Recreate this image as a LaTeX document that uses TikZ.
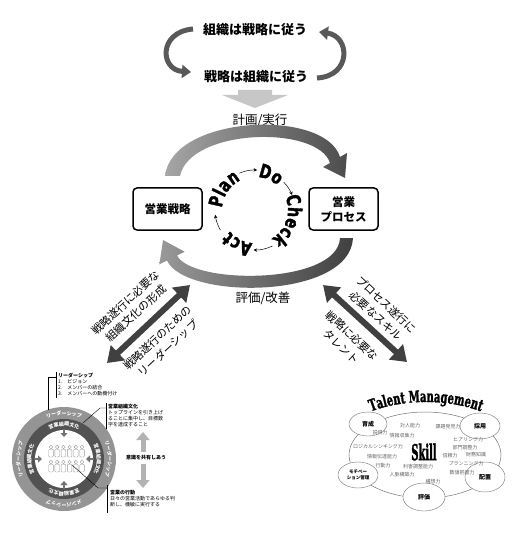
\documentclass[tikz,border=0pt]{standalone}
\usepackage{fontspec}
\setmainfont{Noto Sans CJK JP}
\newfontfamily\pdcafont{DejaVu Sans}[FakeStretch=0.75,BoldFeatures={FakeBold=1.6}]
\newfontfamily\tmfont{DejaVu Serif}[FakeStretch=0.62,BoldFeatures={FakeBold=1.4}]
\newfontfamily\skillfont{DejaVu Serif}[FakeStretch=0.45,BoldFeatures={FakeBold=1.4}]
\usetikzlibrary{arrows.meta,shapes.geometric,decorations.text}

\begin{document}
\begin{tikzpicture}[x=1pt,y=1pt,line width=0.4pt,
  motto/.style={font=\bfseries\fontsize{13}{13}\selectfont,inner sep=1pt},
  cyc/.style={font=\fontsize{12.5}{12.5}\selectfont,inner sep=1pt},
  box/.style={draw,line width=1.5pt,rounded corners=4pt,align=center,
              minimum width=69pt,minimum height=42pt,inner sep=2pt,
              font=\bfseries\fontsize{11.5}{15}\selectfont},
  diag/.style={align=center,inner sep=0pt,font=\fontsize{11}{15}\selectfont},
  curl/.style={line width=5pt,draw=black!65,-{Triangle[length=9pt,width=13pt]}},
  twin/.style={line width=6pt,draw=black!75,
               {Triangle[length=15pt,width=20pt]}-{Triangle[length=15pt,width=20pt]}},
  pdca/.style={decorate,decoration={text along path,text align=center,
               text={|\pdcafont\bfseries\fontsize{19}{19}\selectfont|#1}}},
  hop/.style={-{Stealth[length=3.5pt,width=3.5pt]},line width=0.5pt},
  ringtext/.style={decorate,decoration={text along path,text align=center,
               text color=white,text={|\bfseries\fontsize{5}{5}\selectfont|#1}}},
  poke/.style={line width=2.5pt,draw=black!55,-{Triangle[length=4pt,width=7pt]}},
  person/.style={draw=black!40,fill=white,line width=0.4pt},
  note/.style={anchor=north west,align=left,inner sep=0pt,
               font=\fontsize{5}{6}\selectfont},
  pale/.style={line width=5pt,draw=black!30,-{Triangle[length=8pt,width=13pt]}},
  skill/.style={font=\fontsize{5}{5}\selectfont,text=black!60,inner sep=0pt},
  oval/.style={ellipse,draw=black!55,fill=white,inner sep=0pt,align=center,
               font=\bfseries\fontsize{6}{7}\selectfont},
  tm/.style={decorate,decoration={text along path,text align=center,
             text={|\tmfont\bfseries\fontsize{16}{16}\selectfont|#1}}}]
  \useasboundingbox (0,0) rectangle (516,-534);

  \node[motto] (org) at (255,-30) {組織は戦略に従う};
  \node[motto] (str) at (256,-77) {戦略は組織に従う};
  \coordinate (l1) at (193,-29);
  \coordinate (l2) at (191,-72);
  \coordinate (r1) at (317,-78);
  \coordinate (r2) at (319,-32);
  \draw[curl] (l1) .. controls (158,-32) and (160,-70) .. (l2);
  \draw[curl] (r1) .. controls (352,-76) and (350,-36) .. (r2);
  \fill[black!22] (238,-90) -- (272,-90) -- (272,-95) -- (288,-95) -- (255,-108)
    -- (222,-95) -- (238,-95) -- cycle;

  \node[cyc] (run) at (260,-120) {計画/実行};
  \node[cyc] (fix) at (263,-298) {評価/改善};
  \shade[left color=black!35,right color=black!70]
    (165,-176) .. controls (172,-115) and (325,-108) .. (340,-157)
    -- (347,-153) -- (345,-178) -- (323,-167) -- (330,-163)
    .. controls (318,-125) and (190,-128) .. (180,-176) -- cycle;
  \shade[left color=black!40,right color=black!75]
    (353,-238) .. controls (350,-300) and (185,-300) .. (167,-260.5)
    -- (159.4,-264.3) -- (163,-240) -- (184.6,-251.7) -- (177,-255.5)
    .. controls (192,-285) and (338,-285) .. (340,-238) -- cycle;

  \node[box] (strat) at (167.5,-209) {営業戦略};
  \node[box] (proc) at (343.5,-209) {営業\\プロセス};

  \coordinate (pc) at (255,-210);
  \path[pdca=Plan] ([shift={(181:33)}]pc) arc[start angle=181,end angle=111,radius=33];
  \path[pdca=Do] ([shift={(96:33)}]pc) arc[start angle=96,end angle=36,radius=33];
  \path[pdca=Check] ([shift={(27:33)}]pc) arc[start angle=27,end angle=-63,radius=33];
  \path[pdca=Act] ([shift={(-82:33)}]pc) arc[start angle=-82,end angle=-152,radius=33];
  \draw[hop] ([shift={(113:40)}]pc) arc[start angle=113,end angle=87,radius=40];
  \draw[hop] ([shift={(44:40)}]pc) arc[start angle=44,end angle=22,radius=40];
  \draw[hop] ([shift={(-64:40)}]pc) arc[start angle=-64,end angle=-92,radius=40];
  \draw[hop] ([shift={(-150:40)}]pc) arc[start angle=-150,end angle=-173,radius=40];

  \coordinate (la) at (107,-363);
  \coordinate (lb) at (190,-285);
  \draw[twin] (la) -- (lb);
  \node[diag,rotate=43] (culture) at (131,-308) {戦略遂行に必要な\\組織文化の形成};
  \node[diag,rotate=43] (lead) at (163,-343) {戦略遂行のための\\リーダーシップ};
  \coordinate (ra) at (323,-285);
  \coordinate (rb) at (407,-362);
  \draw[twin] (ra) -- (rb);
  \node[diag,rotate=-43] (skills) at (381,-310) {プロセス遂行に\\必要なスキル};
  \node[diag,rotate=-43] (talent) at (347,-341) {戦略に必要な\\タレント};

  \coordinate (wc) at (64,-459);
  \fill[black!42] (wc) circle[radius=52];
  \fill[black!68] (wc) circle[radius=40];
  \fill[white] (wc) circle[radius=29];
  \path[ringtext=リーダーシップ] ([shift={(135:44)}]wc) arc[start angle=135,end angle=45,radius=44];
  \path[ringtext=リーダーシップ] ([shift={(45:44)}]wc) arc[start angle=45,end angle=-45,radius=44];
  \path[ringtext=メンバーシップ] ([shift={(-45:44)}]wc) arc[start angle=-45,end angle=-135,radius=44];
  \path[ringtext=リーダーシップ] ([shift={(-135:44)}]wc) arc[start angle=-135,end angle=-225,radius=44];
  \path[ringtext=営業組織文化] ([shift={(135:33)}]wc) arc[start angle=135,end angle=45,radius=33];
  \path[ringtext=営業組織文化] ([shift={(45:33)}]wc) arc[start angle=45,end angle=-45,radius=33];
  \path[ringtext=営業組織文化] ([shift={(-45:33)}]wc) arc[start angle=-45,end angle=-135,radius=33];
  \path[ringtext=営業組織文化] ([shift={(-135:33)}]wc) arc[start angle=-135,end angle=-225,radius=33];
  \foreach \a in {90,0,-90,180}
    \draw[poke] ([shift={(\a:30)}]wc) -- ([shift={(\a:22)}]wc);
  \foreach \row in {0,1}
    \foreach \i in {0,...,5} {
      \draw[person] ({51+\i*6.2},{-447-\row*15}) circle[radius=1.8];
      \draw[person,rounded corners=1pt] ({48.7+\i*6.2},{-449.2-\row*15})
        rectangle ({53.3+\i*6.2},{-457-\row*15});
    }

  \node[note] (lnote) at (58,-373) {\textbf{リーダーシップ}\\1.\quad ビジョン\\
    2.\quad メンバーの結合\\3.\quad メンバーへの動機付け};
  \draw (48,-410) -- (48,-377) -- (56,-377);
  \draw (56,-372) -- (56,-398);
  \node[note] (cnote) at (108,-404) {\textbf{営業組織文化}\\トップラインを引き上げ\\
    ることに集中し、目標数\\字を達成すること};
  \draw (83,-423) -- (100,-408) -- (106,-408);
  \draw (106,-403) -- (106,-429);
  \node[note] (anote) at (110,-490) {\textbf{営業の行動}\\日々の営業活動であらゆる判\\
    断し、機敏に実行する};
  \draw (72,-465) -- (98,-488) -- (107,-488);
  \draw (107,-485) -- (107,-513);
  \node[font=\bfseries\fontsize{5}{5}\selectfont,inner sep=1pt] (share) at (146,-458) {意識を共有しあう};
  \coordinate (su) at (143,-432);
  \coordinate (sd) at (143,-488);
  \draw[pale] ([yshift=2pt]share.north -| su) -- (su);
  \draw[pale] ([yshift=-2pt]share.south -| sd) -- (sd);

  \draw[black!55,line width=0.5pt] (425,-455) ellipse[x radius=76,y radius=43];
  \path[tm=Talent Management] (365,-414) .. controls (400,-398) and (452,-398) .. (487,-414);
  \node[font=\skillfont\bfseries\fontsize{22}{22}\selectfont,inner sep=0pt] (skill) at (424,-452) {Skill};
  \node[oval,minimum width=38pt,minimum height=24pt] (train) at (368,-424) {育成};
  \node[oval,minimum width=40pt,minimum height=26pt] (hire) at (480,-426) {採用};
  \node[oval,minimum width=40pt,minimum height=26pt,
        font=\bfseries\fontsize{4.5}{5.5}\selectfont] (motiv) at (358,-475) {モチベー\\ション管理};
  \node[oval,minimum width=40pt,minimum height=30pt] (place) at (485,-477) {配置};
  \node[oval,minimum width=42pt,minimum height=28pt] (rate) at (424,-497) {評価};
  \foreach \txt/\px/\py in {対人能力/410/426, 課題発見力/448/427, 説得力/380/433,
      情報収集力/402/436, ヒアリング力/468/440, ロジカルシンキング力/378/447,
      部門調整力/465/448, 情報伝達能力/382/457, 信頼力/450/456, 財務知識/476/455,
      行動力/383/466, 利害調整能力/418/467, プランニング力/466/464,
      人脈構築力/402/475, 数値把握力/462/473, 構想力/433/482}
    \node[skill] (sk\px\py) at (\px,-\py) {\txt};
\end{tikzpicture}
\end{document}
